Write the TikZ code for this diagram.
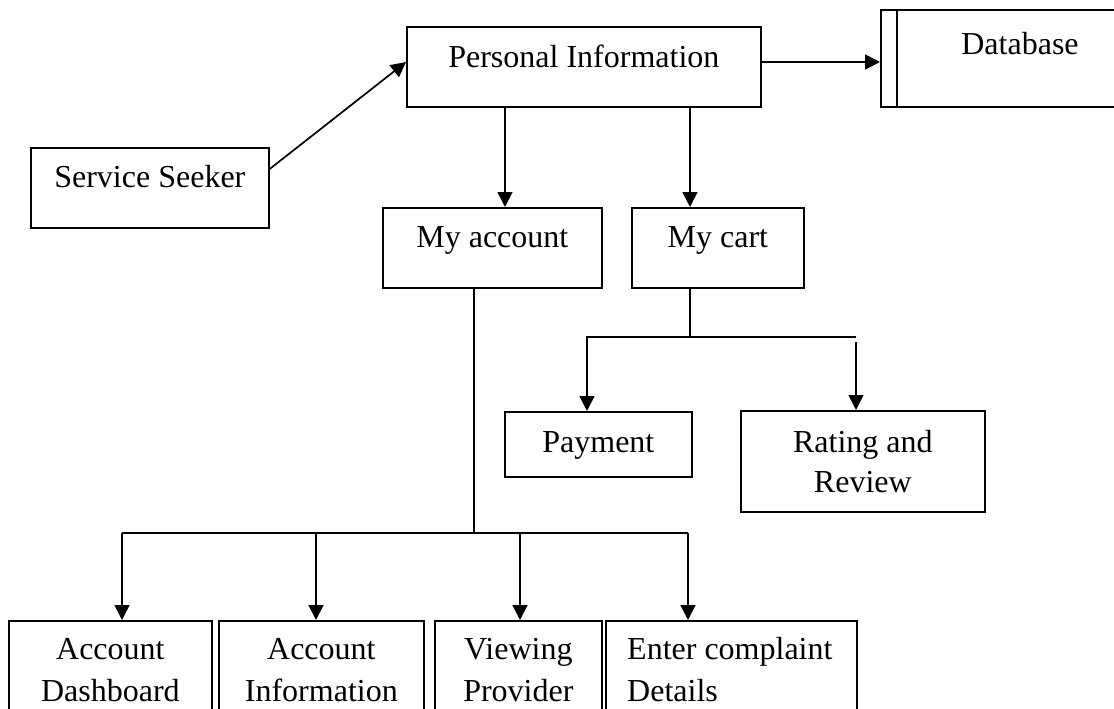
\documentclass[tikz,border=0pt]{standalone}
\usepackage{fontspec}
\setmainfont{Liberation Serif}
\usetikzlibrary{arrows.meta,calc}
\begin{document}
\begin{tikzpicture}[x=1pt,y=-1pt,
  box/.style={draw, line width=1.7pt, inner sep=0pt, anchor=north west},
  lbl/.style={anchor=base, inner sep=0pt, font=\fontsize{32}{40}\selectfont},
  lblw/.style={lbl, anchor=base west},
  conn/.style={line width=1.7pt},
  arr/.style={conn, -{Triangle[length=15pt,width=15pt]}}]
\clip (0,0) rectangle (1114,709);
% boxes
\node[box, minimum width=354pt, minimum height=80pt] (pi) at (406,26) {};
\node[box, minimum width=250pt, minimum height=97pt] (db) at (880,9) {};
\node[box, minimum width=238pt, minimum height=80pt] (ss) at (30,147) {};
\node[box, minimum width=219pt, minimum height=80pt] (acc) at (382,207) {};
\node[box, minimum width=172pt, minimum height=80pt] (cart) at (631,207) {};
\node[box, minimum width=187pt, minimum height=65pt] (pay) at (504,411) {};
\node[box, minimum width=244pt, minimum height=101pt] (rate) at (740,410) {};
\node[box, minimum width=203pt, minimum height=110pt] (b1) at (8,620) {};
\node[box, minimum width=205pt, minimum height=110pt] (b2) at (218,620) {};
\node[box, minimum width=167pt, minimum height=110pt] (b3) at (434,620) {};
\node[box, minimum width=251pt, minimum height=110pt] (b4) at (605,620) {};
\draw[conn] ($(db.north west)+(17,0)$) coordinate (dbl1) -- (dbl1 |- db.south);
% labels
\node[lbl] (pit) at ($(pi.north)+(0,42)$) {Personal Information};
\node[lbl] (dbt) at ($(db.north west)+(140,46)$) {Database};
\node[lbl] (sst) at ($(ss.north)+(0,40)$) {Service Seeker};
\node[lbl] (acct) at ($(acc.north)+(0,40)$) {My account};
\node[lbl] (cartt) at ($(cart.north)+(0,40)$) {My cart};
\node[lbl] (payt) at ($(pay.north)+(0,41)$) {Payment};
\node[lbl] (ratet1) at ($(rate.north)+(0,42)$) {Rating and};
\node[lbl] (ratet2) at ($(rate.north)+(0,82)$) {Review};
\node[lbl] (b1t1) at ($(b1.north)+(0,39)$) {Account};
\node[lbl] (b1t2) at ($(b1.north)+(0,81)$) {Dashboard};
\node[lbl] (b2t1) at ($(b2.north)+(0,39)$) {Account};
\node[lbl] (b2t2) at ($(b2.north)+(0,81)$) {Information};
\node[lbl] (b3t1) at ($(b3.north)+(0,39)$) {Viewing};
\node[lbl] (b3t2) at ($(b3.north)+(0,81)$) {Provider};
\node[lblw] (b4t1) at ($(b4.north west)+(22,39)$) {Enter complaint};
\node[lblw] (b4t2) at ($(b4.north west)+(22,81)$) {Details};
% connectors
\draw[arr] ($(ss.north east)+(0,22)$) -- ($(pi.north west)+(0,36)$);
\draw[arr] ($(pi.north east)+(0,36)$) -- ($(db.north west)+(0,53)$);
\coordinate (p1) at ($(pi.south west)+(99,0)$);
\coordinate (p2) at ($(pi.south west)+(284,0)$);
\draw[arr] (p1) -- (p1 |- acc.north);
\draw[arr] (p2) -- (p2 |- cart.north);
% cart tree
\coordinate (c0) at ($(cart.south west)+(59,0)$);
\coordinate (c1) at ($(c0)+(0,48)$);
\coordinate (c2) at ($(pay.north west)+(83,0)$);
\coordinate (c3) at ($(rate.north west)+(116,0)$);
\draw[conn] (c0) -- (c1) -- (c3 |- c1);
\draw[arr] (c1) -- (c2 |- c1) -- (c2);
\draw[arr] ($(c3 |- c1)+(0,5)$) -- (c3);
% account tree
\coordinate (a0) at ($(acc.south west)+(92,0)$);
\coordinate (a1) at ($(a0)+(0,244)$);
\coordinate (t1) at ($(b1.north west)+(114,0)$);
\coordinate (t2) at ($(b2.north west)+(98,0)$);
\coordinate (t3) at ($(b3.north west)+(86,0)$);
\coordinate (t4) at ($(b4.north west)+(83,0)$);
\draw[conn] (a0) -- (a1);
\draw[conn] (t1 |- a1) -- (t4 |- a1);
\draw[arr] (t1 |- a1) -- (t1);
\draw[arr] (t2 |- a1) -- (t2);
\draw[arr] (t3 |- a1) -- (t3);
\draw[arr] (t4 |- a1) -- (t4);
\end{tikzpicture}
\end{document}
